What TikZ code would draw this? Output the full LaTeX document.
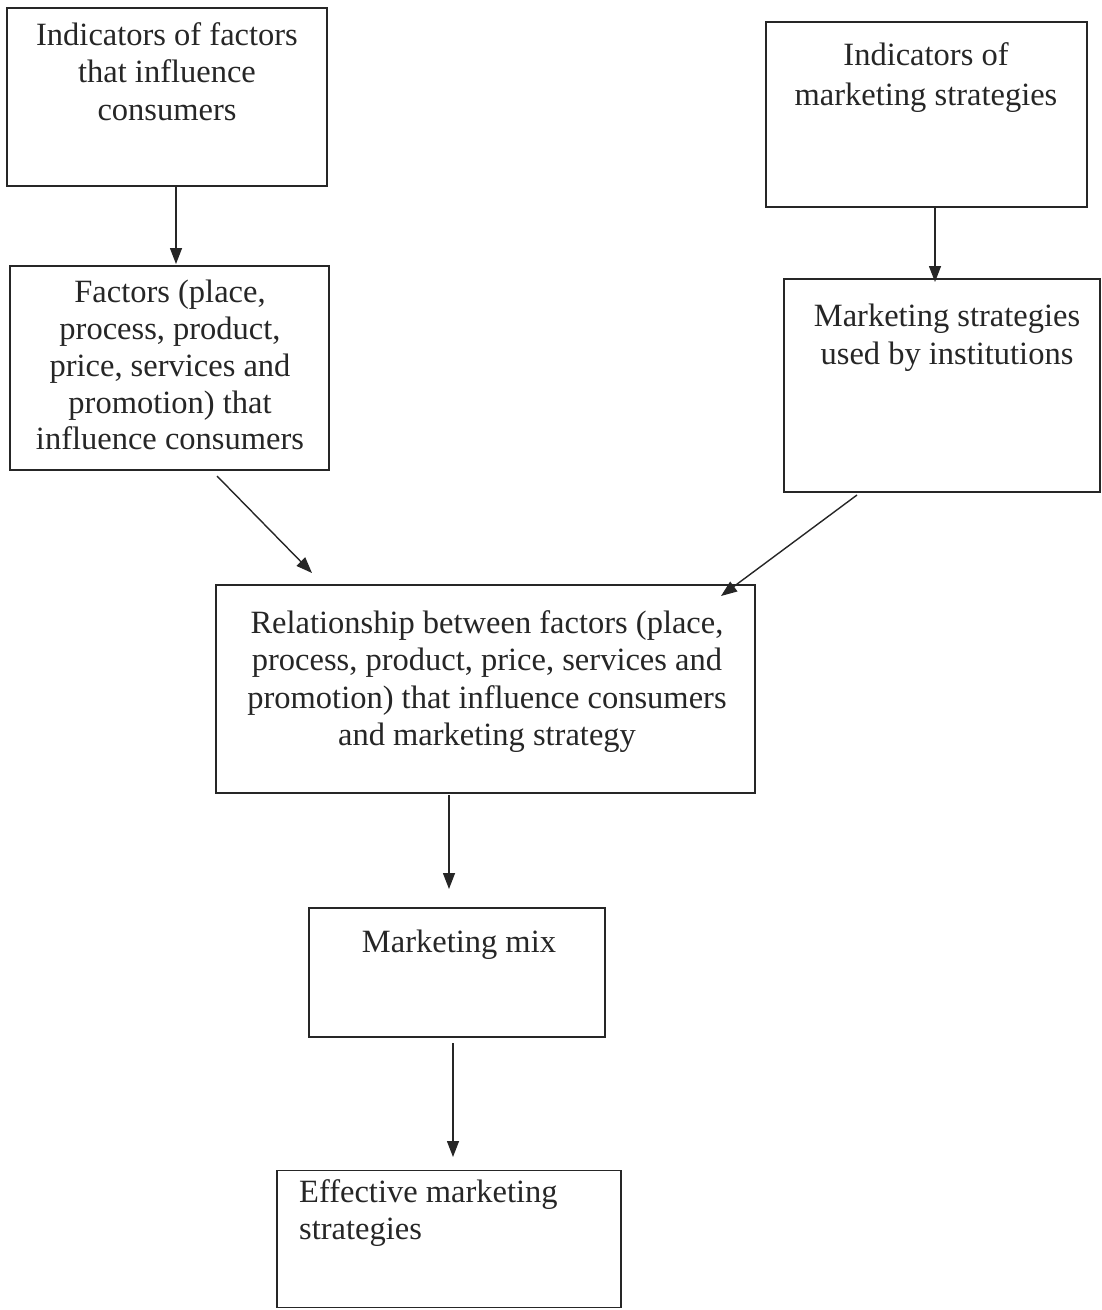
\documentclass[tikz,border=0pt]{standalone}
\usepackage{fontspec}
\setmainfont{Liberation Serif}
\usetikzlibrary{arrows.meta,calc}
\begin{document}
\begin{tikzpicture}[x=1pt,y=-1pt,
  box/.style={draw=black!85, line width=1.4pt, rectangle, inner sep=0pt},
  txt/.style={inner sep=0pt, align=center, font=\fontsize{32.5}{37.5}\selectfont, text=black!85},
  arr/.style={line width=1.4pt, draw=black!85, -{Triangle[length=16pt,width=12pt]}}]
\useasboundingbox (0,0) rectangle (1102,1310);
% boxes
\node[box, minimum width=320pt, minimum height=178pt] (b1) at (167,97) {};
\node[box, minimum width=321pt, minimum height=185pt] (b2) at (926.5,114.5) {};
\node[box, minimum width=319pt, minimum height=204pt] (b3) at (169.5,368) {};
\node[box, minimum width=316pt, minimum height=213pt] (b4) at (942,385.5) {};
\node[box, minimum width=539pt, minimum height=208pt] (b5) at (485.5,689) {};
\node[box, minimum width=296pt, minimum height=129pt] (b6) at (457,972.5) {};
\node[box, minimum width=344pt, minimum height=137pt] (b7) at (449,1239) {};
% texts
\node[txt, anchor=north] (t1) at (167,22) {Indicators of factors\\that influence\\consumers};
\node[txt, anchor=north, font=\fontsize{32.5}{40}\selectfont] (t2) at (926,42) {Indicators of\\marketing strategies};
\node[txt, anchor=north, font=\fontsize{32.5}{36.8}\selectfont] (t3) at (170,280) {Factors (place,\\process, product,\\price, services and\\promotion) that\\influence consumers};
\node[txt, anchor=north] (t4) at (947,304) {Marketing strategies\\used by institutions};
\node[txt, anchor=north] (t5) at (487,610) {Relationship between factors (place,\\process, product, price, services and\\promotion) that influence consumers\\and marketing strategy};
\node[txt, anchor=north] (t6) at (459,930) {Marketing mix};
\node[txt, anchor=north west, align=left] (t7) at (299,1179) {Effective marketing\\strategies};
% arrow end points
\coordinate (a1s) at (176,186); \coordinate (a1e) at (176,264);
\coordinate (a2s) at (935,207); \coordinate (a2e) at (935,282);
\coordinate (a3s) at (217,476); \coordinate (a3e) at (312,573);
\coordinate (a4s) at (857,495); \coordinate (a4e) at (721,596);
\coordinate (a5s) at (449,795); \coordinate (a5e) at (449,889);
\coordinate (a6s) at (453,1043); \coordinate (a6e) at (453,1157);
\draw[arr] (a1s) -- (a1e);
\draw[arr] (a2s) -- (a2e);
\draw[arr] (a3s) -- (a3e);
\draw[arr] (a4s) -- (a4e);
\draw[arr] (a5s) -- (a5e);
\draw[arr] (a6s) -- (a6e);
\end{tikzpicture}
\end{document}
